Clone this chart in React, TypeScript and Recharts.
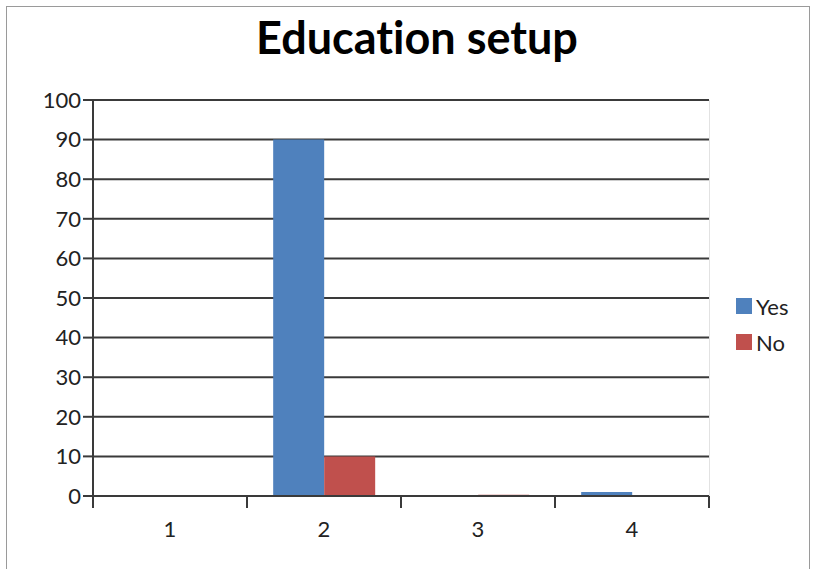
import { BarChart, Bar, XAxis, YAxis, CartesianGrid } from "recharts";

const CATEGORIES = ["1", "2", "3", "4"];
const YES = [0, 90, 0, 1];
const NO = [0, 10, 0.3, 0];
const Y_TICKS = [0, 10, 20, 30, 40, 50, 60, 70, 80, 90, 100];

const DATA = CATEGORIES.map((c, i) => ({ cat: c, yes: YES[i], no: NO[i] }));

const W = 813;
const H = 569;
const PLOT_LEFT = 93;
const PLOT_RIGHT = 709;
const PLOT_TOP = 100;
const PLOT_BOTTOM = 496;
const STEP = (PLOT_RIGHT - PLOT_LEFT) / CATEGORIES.length;
const FONT = "Lato, 'Open Sans', sans-serif";
const AXIS = "#3a3a3a";

function XTick(props: any) {
  const { x, y, payload, index } = props;
  const left = x - STEP / 2;
  return (
    <g>
      <line x1={left} y1={y - 8} x2={left} y2={y + 4} stroke={AXIS} strokeWidth={2} />
      {index === CATEGORIES.length - 1 && (
        <line x1={x + STEP / 2} y1={y - 8} x2={x + STEP / 2} y2={y + 4} stroke={AXIS} strokeWidth={2} />
      )}
      <text x={x} y={y + 33} textAnchor="middle" fontSize={22} fill="#222" fontFamily={FONT}>
        {payload.value}
      </text>
    </g>
  );
}

export default function App() {
  return (
    <div style={{ position: "absolute", left: 0, top: 0, width: W, height: H, background: "#fff", overflow: "hidden" }}>
      <div
        style={{
          position: "absolute",
          left: 6,
          top: 6,
          width: W - 9,
          height: H,
          border: "1.5px solid #9a9a9a",
          boxSizing: "border-box",
        }}
      />
      <div
        style={{
          position: "absolute",
          left: 0,
          width: 834,
          top: 10,
          textAlign: "center",
          fontFamily: FONT,
          fontWeight: 700,
          fontSize: 45,
          fontVariantLigatures: "none",
          color: "#000",
        }}
      >
        Education setup
      </div>
      <div style={{ position: "absolute", left: 0, top: 0 }}>
        <BarChart
          width={W}
          height={H}
          data={DATA}
          margin={{ top: PLOT_TOP, left: PLOT_LEFT - 60, right: W - PLOT_RIGHT, bottom: H - PLOT_BOTTOM - 40 }}
          barCategoryGap="17%"
          barGap={0}
        >
          <CartesianGrid vertical={false} stroke={AXIS} strokeWidth={2} />
          <XAxis
            dataKey="cat"
            axisLine={{ stroke: AXIS, strokeWidth: 2 }}
            tickLine={false}
            tick={<XTick />}
            height={40}
            interval={0}
          />
          <YAxis
            domain={[0, 100]}
            ticks={Y_TICKS}
            width={60}
            axisLine={{ stroke: AXIS, strokeWidth: 2 }}
            tickLine={{ stroke: AXIS, strokeWidth: 2 }}
            tickSize={10}
            tick={{ fontSize: 22, fill: "#222", fontFamily: FONT }}
            interval={0}
          />
          <Bar dataKey="yes" fill="#4F81BD" isAnimationActive={false} />
          <Bar dataKey="no" fill="#C0504D" isAnimationActive={false} />
        </BarChart>
      </div>
      <div
        style={{
          position: "absolute",
          left: PLOT_RIGHT,
          top: PLOT_TOP,
          width: 1,
          height: PLOT_BOTTOM - PLOT_TOP,
          background: "#e2e2e2",
        }}
      />
      <div style={{ position: "absolute", left: 736, top: 288, fontFamily: FONT, fontSize: 22, color: "#222" }}>
        {[
          { name: "Yes", color: "#4F81BD" },
          { name: "No", color: "#C0504D" },
        ].map((s) => (
          <div key={s.name} style={{ display: "flex", alignItems: "center", height: 36 }}>
            <div style={{ width: 16, height: 16, background: s.color, marginRight: 4 }} />
            <span>{s.name}</span>
          </div>
        ))}
      </div>
    </div>
  );
}
